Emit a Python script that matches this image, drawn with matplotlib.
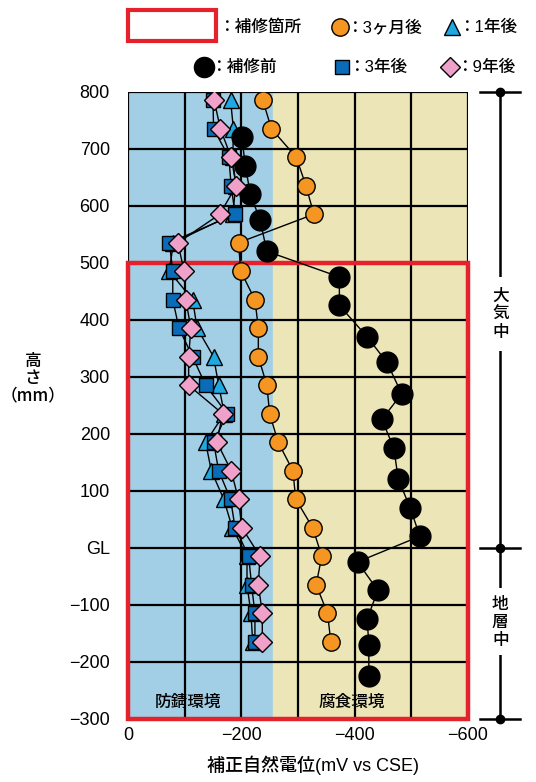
import matplotlib
matplotlib.use("Agg")
import matplotlib.pyplot as plt
from matplotlib.patches import Rectangle
from matplotlib.lines import Line2D

plt.rcParams['font.family'] = ['Liberation Sans', 'Noto Sans CJK JP', 'DejaVu Sans']
JP = ['Noto Sans CJK JP', 'DejaVu Sans']

# heights (mm) of measuring points
h_after = [785, 735, 685, 635, 585, 535, 485, 435, 385, 335, 285, 235, 185, 135, 85, 35, -15, -65, -115, -165]
h_before = [720, 670, 620, 575, 520, 475, 425, 370, 325, 270, 225, 175, 120, 70, 20, -25, -75, -125, -170, -225]

# potentials (mV vs CSE)
v_before = [-201, -207, -216, -233, -245, -373, -373, -422, -457, -483, -448, -469, -477, -498, -515, -405, -441, -422, -425, -425]
v_3m = [-238, -253, -297, -314, -328, -195, -199, -224, -230, -230, -245, -250, -265, -291, -296, -326, -342, -332, -352, -358]
v_1y = [-181, -186, -185, -190, -185, -80, -73, -114, -122, -151, -160, -170, -137, -147, -169, -184, -210, -210, -217, -220]
v_3y = [-150, -151, -178, -182, -189, -73, -79, -79, -90, -114, -137, -175, -151, -160, -181, -189, -213, -218, -224, -224]
v_9y = [-152, -163, -182, -191, -162, -88, -99, -102, -111, -107, -107, -167, -157, -182, -195, -201, -233, -230, -237, -237]

yticks = [800, 700, 600, 500, 400, 300, 200, 100, 0, -100, -200, -300]
ylabels = ['800', '700', '600', '500', '400', '300', '200', '100', 'GL', '−100', '−200', '−300']
xticks = [0, -200, -400, -600]
xlabels = ['0', '−200', '−400', '−600']

fig = plt.figure(figsize=(5.36, 7.82), dpi=100)
ax = fig.add_axes([128/536, 1-718.7/782, 340/536, 627/782])
ax.set_xlim(0, -600)
ax.set_ylim(-300, 800)

ax.axvspan(0, -255, color='#a2cfe5', zorder=0)
ax.axvspan(-255, -600, color='#ebe5b7', zorder=0)

for x in range(0, -601, -100):
    ax.axvline(x, color='black', lw=1.6, zorder=1)
for y in yticks:
    ax.axhline(y, color='black', lw=1.6, zorder=1)

ax.add_patch(Rectangle((0, -300), -600, 800, fill=False, ec='#e5212b', lw=3.2, zorder=2, clip_on=False))

ax.plot(v_1y, h_after, '-^', color='black', lw=1, mfc='#20a9e0', mec='black', mew=1, ms=11, zorder=3)
ax.plot(v_3y, h_after, '-s', color='black', lw=1, mfc='#0a6cb8', mec='black', mew=1, ms=10, zorder=4)
ax.plot(v_before, h_before, '-o', color='black', lw=1, mfc='black', mec='black', ms=15, zorder=5)
ax.plot(v_3m, h_after, '-o', color='black', lw=1, mfc='#f49621', mec='black', mew=1, ms=12.5, zorder=6)
ax.plot(v_9y, h_after, '-D', color='black', lw=1, mfc='#f0a1c9', mec='black', mew=1, ms=10.5, zorder=7)

ax.text(-105, -272, '防錆環境', fontsize=12, fontweight='medium', ha='center', va='center', zorder=8)
ax.text(-395, -272, '腐食環境', fontsize=12, fontweight='medium', ha='center', va='center', zorder=8)

for s in ax.spines.values():
    s.set_visible(False)
ax.set_yticks(yticks)
ax.set_yticklabels(ylabels, fontsize=13)
ax.set_xticks(xticks)
ax.set_xticklabels(xlabels, fontsize=13)
ax.tick_params(axis='y', length=0, pad=13)
ax.tick_params(axis='x', length=0, pad=6)

# right side bracket
xr = -657
ax.plot([xr, xr], [800, -300], color='black', lw=1.8, clip_on=False)
for y in [800, 0, -300]:
    ax.plot([-622, -692], [y, y], color='black', lw=1.8, clip_on=False)
    ax.plot([xr], [y], 'o', color='black', ms=6, clip_on=False)
ax.text(xr, 410, '大\n気\n中', family=JP, fontsize=12, fontweight='medium', ha='center', va='center',
        linespacing=1.0, bbox=dict(boxstyle='square,pad=0.6', fc='white', ec='none'), clip_on=False)
ax.text(xr, -130, '地\n層\n中', family=JP, fontsize=12, fontweight='medium', ha='center', va='center',
        linespacing=1.0, bbox=dict(boxstyle='square,pad=0.4', fc='white', ec='none'), clip_on=False)

fig.text(33/536, 1-378/782, '高\nさ\n（mm）', family=JP, fontsize=12, fontweight='medium',
         ha='center', va='center', linespacing=0.95)
fig.text(313/536, 1-765/782, '補正自然電位(mV vs CSE)', fontsize=13, fontweight='medium', ha='center', va='center')

# legend drawn in pixel layout
lg = fig.add_axes([0, 0, 1, 1], zorder=-1)
lg.set_xlim(0, 536)
lg.set_ylim(782, 0)
lg.axis('off')
lg.add_patch(Rectangle((128, 10), 88, 31, fill=False, ec='#e5212b', lw=3))
items = [
    (340, 27, 'o', '#f49621', 12.5, '：3ヶ月後'),
    (452, 27, '^', '#20a9e0', 11, '：1年後'),
    (204, 67, 'o', 'black', 14.5, '：補修前'),
    (342, 67, 's', '#0a6cb8', 10, '：3年後'),
    (450, 67, 'D', '#f0a1c9', 10.5, '：9年後'),
]
lg.text(218, 27, '：補修箇所', fontsize=12, fontweight='medium', va='center')
for x, y, m, c, ms, t in items:
    lg.add_line(Line2D([x], [y], marker=m, mfc=c, mec='black', mew=1, ms=ms, ls='none'))
    lg.text(x + 6, y, t, fontsize=12, fontweight='medium', va='center')

fig.savefig('out.png', dpi=100, facecolor='white')
